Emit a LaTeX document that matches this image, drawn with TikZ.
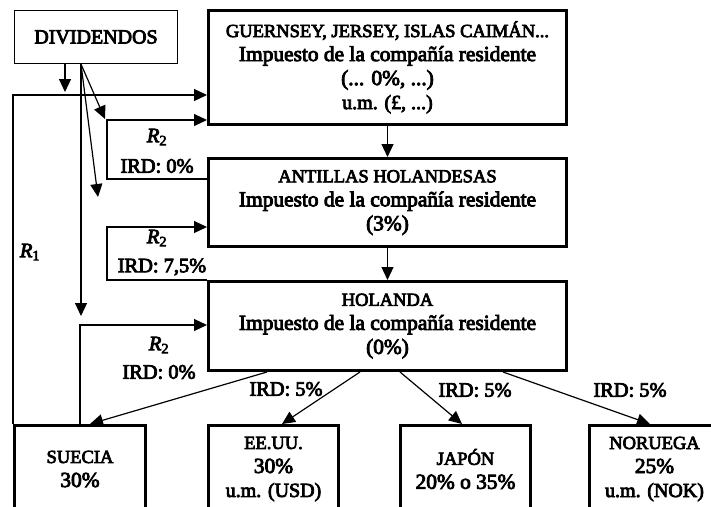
\documentclass[tikz,border=0pt]{standalone}
\usepackage{fontspec}
\setmainfont{Liberation Serif}[FakeBold=4]
\usetikzlibrary{arrows.meta}
% caps lines, mixed-case lines, currency lines and flow labels
\newcommand\capf{\fontsize{18.5}{24}\selectfont}
\newcommand\bodyf{\fontsize{21.4}{24}\selectfont}
\newcommand\umf{\fontsize{20}{24}\selectfont}
\begin{document}
\begin{tikzpicture}[x=1pt,y=-1pt,
  font=\bodyf,
  thinbox/.style={draw, line width=1.3pt, inner sep=0pt, align=center},
  thickbox/.style={draw, line width=3pt, inner sep=0pt, align=center},
  link/.style={line width=1.2pt},
  arr/.style={link, -{Triangle[length=13pt,width=12pt]}},
  lbl/.style={inner sep=0pt, font=\fontsize{20.4}{24}\selectfont}]
\useasboundingbox (0,0) rectangle (711,506);
\clip (0,0) rectangle (711,506);

% boxes
\node[thinbox, minimum width=163pt, minimum height=53pt] (div) at (96,37) {\fontsize{20}{24}\selectfont DIVIDENDOS};
\node[thickbox, minimum width=358pt, minimum height=114.5pt] (gue) at (387.5,67.25)
  {\capf GUERNSEY, JERSEY, ISLAS CAIMÁN...\\\bodyf Impuesto de la compañía residente\\(... 0\%, ...)\\\umf u.m. (£, ...)};
\node[thickbox, minimum width=358pt, minimum height=88pt] (ant) at (387.5,202.5)
  {\capf ANTILLAS HOLANDESAS\\\bodyf Impuesto de la compañía residente\\(3\%)};
\node[thickbox, minimum width=358pt, minimum height=89pt] (hol) at (387.5,326)
  {\capf HOLANDA\\\bodyf Impuesto de la compañía residente\\(0\%)};
\node[thickbox, minimum width=131pt, minimum height=87pt] (sue) at (80,469)
  {\capf SUECIA\\\bodyf 30\%};
\node[thickbox, minimum width=130pt, minimum height=87pt] (usa) at (273.5,469)
  {\capf EE.UU.\\\bodyf 30\%\\\umf u.m. (USD)};
\node[thickbox, minimum width=130pt, minimum height=87pt] (jap) at (465.5,469)
  {\capf JAPÓN\\\bodyf 20\% o 35\%};
\node[thickbox, minimum width=130pt, minimum height=87pt] (nor) at (654.5,469)
  {\capf NORUEGA\\\bodyf 25\%\\\umf u.m. (NOK)};

% free ends and bends
\coordinate (d1) at (65,92);
\coordinate (d2) at (81,316);
\coordinate (d3) at (105,119);
\coordinate (d4) at (98,197);
\coordinate (r1) at (13,95);
\coordinate (l1) at (107,120);
\coordinate (l2) at (107,227);
\coordinate (l3) at (80,325);

% dividend flows
\draw[arr] (div.south -| d1) -- (d1);
\draw[arr] (div.south -| d2) -- (d2);
\draw[arr] (div.south -| d2) -- (d3);
\draw[arr] (div.south -| d2) -- (d4);

% R1 and R2 returns
\draw[arr] (sue.north west) |- (gue.west |- r1);
\draw[arr] (ant.west |- 0,179) -| (l1) -- (gue.west |- l1);
\draw[arr] (hol.north west) -| (l2) -- (ant.west |- l2);
\draw[arr] (sue.north -| l3) -- (l3) -- (hol.west |- l3);

% chain
\draw[arr] (gue.south) -- (ant.north);
\draw[arr] (ant.south) -- (hol.north);

% Holanda to subsidiaries
\draw[arr] (hol.south -| 267,0) -- (sue.north -| 90,0);
\draw[arr] (hol.south -| 360,0) -- (usa.north -| 282,0);
\draw[arr] (hol.south -| 400,0) -- (jap.north -| 462,0);
\draw[arr] (hol.south -| 503,0) -- (nor.north -| 650,0);

% labels
\node[lbl] (t1) at (157,137) {\textit{R}\textsubscript{2}};
\node[lbl] (t2) at (157,166) {IRD: 0\%};
\node[lbl] (t3) at (157,238) {\textit{R}\textsubscript{2}};
\node[lbl] (t4) at (162,267) {IRD: 7,5\%};
\node[lbl] (t5) at (30,252) {\textit{R}\textsubscript{1}};
\node[lbl] (t6) at (159,345) {\textit{R}\textsubscript{2}};
\node[lbl] (t7) at (159,372) {IRD: 0\%};
\node[lbl] (t8) at (286,389) {IRD: 5\%};
\node[lbl] (t9) at (475,390) {IRD: 5\%};
\node[lbl] (t10) at (630,390) {IRD: 5\%};
\end{tikzpicture}
\end{document}
